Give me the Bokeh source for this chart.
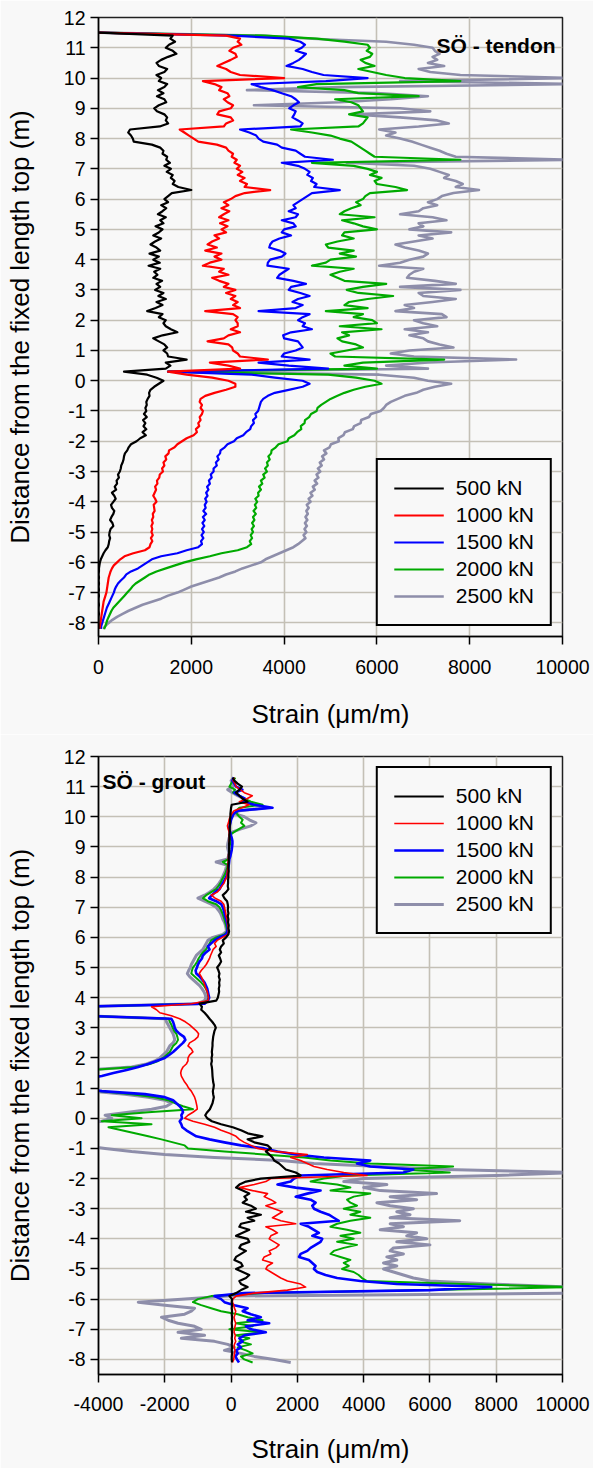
from bokeh.plotting import figure
from bokeh.layouts import column
from bokeh.models import (Range1d, FixedTicker, CustomJSTickFormatter, Legend,
                          LegendItem, Label)
from bokeh.embed import file_html
from bokeh.resources import INLINE

FONT = "Liberation Sans"
BG = "#f8f8f8"
GRID = "#c4c0b6"

LOAD_LABELS = ["500 kN", "1000 kN", "1500 kN", "2000 kN", "2500 kN"]
COLORS = ["#000000", "#ff0000", "#0000ff", "#00aa00", "#8e8eaa"]
X_TITLE = "Strain (\u03bcm/m)"
Y_TITLE = "Distance from the fixed length top (m)"

TOP_X_TICKS = [0, 2000, 4000, 6000, 8000, 10000]
BOT_X_TICKS = [-4000, -2000, 0, 2000, 4000, 6000, 8000, 10000]
Y_TICKS = [-8, -7, -6, -5, -4, -3, -2, -1, 0, 1, 2, 3, 4, 5, 6, 7, 8, 9, 10, 11, 12]

# distance from the fixed length top (m)
DIST_TOP = [
    11.5, 11.4, 11.3, 11.2, 11.1,
    11.0, 10.9, 10.8, 10.7, 10.6, 10.5, 10.4, 10.3, 10.2, 10.1,
    10.0, 9.9, 9.8, 9.7, 9.6, 9.5, 9.4, 9.3, 9.2, 9.1,
    9.0, 8.9, 8.8, 8.7, 8.6, 8.5, 8.4, 8.3, 8.2, 8.1,
    8.0, 7.9, 7.8, 7.7, 7.6, 7.5, 7.4, 7.3, 7.2, 7.1,
    7.0, 6.9, 6.8, 6.7, 6.6, 6.5, 6.4, 6.3, 6.2, 6.1,
    6.0, 5.9, 5.8, 5.7, 5.6, 5.5, 5.4, 5.3, 5.2, 5.1,
    5.0, 4.9, 4.8, 4.7, 4.6, 4.5, 4.4, 4.3, 4.2, 4.1,
    4.0, 3.9, 3.8, 3.7, 3.6, 3.5, 3.4, 3.3, 3.2, 3.1,
    3.0, 2.9, 2.8, 2.7, 2.6, 2.5, 2.4, 2.3, 2.2, 2.1,
    2.0, 1.9, 1.8, 1.7, 1.6, 1.5, 1.4, 1.3, 1.2, 1.1,
    1.0, 0.9, 0.8, 0.7, 0.6, 0.5, 0.4, 0.3, 0.2, 0.1,
    0.0, -0.1, -0.2, -0.3, -0.4, -0.5, -0.6, -0.7, -0.8, -0.9,
    -1.0, -1.1, -1.2, -1.3, -1.4, -1.5, -1.6, -1.7, -1.8, -1.9,
    -2.0, -2.1, -2.2, -2.3, -2.4, -2.5, -2.6, -2.7, -2.8, -2.9,
    -3.0, -3.1, -3.2, -3.3, -3.4, -3.5, -3.6, -3.7, -3.8, -3.9,
    -4.0, -4.1, -4.2, -4.3, -4.4, -4.5, -4.6, -4.7, -4.8, -4.9,
    -5.0, -5.1, -5.2, -5.3, -5.4, -5.5, -5.6, -5.7, -5.8, -5.9,
    -6.0, -6.1, -6.2, -6.3, -6.4, -6.5, -6.6, -6.7, -6.8, -6.9,
    -7.0, -7.1, -7.2, -7.3, -7.4, -7.5, -7.6, -7.7, -7.8, -7.9,
    -8.0, -8.1, -8.2,
]

DIST_BOT = [
    11.3, 11.2, 11.1,
    11.0, 10.9, 10.8, 10.7, 10.6, 10.5, 10.4, 10.3, 10.2, 10.1,
    10.0, 9.9, 9.8, 9.7, 9.6, 9.5, 9.4, 9.3, 9.2, 9.1,
    9.0, 8.9, 8.8, 8.7, 8.6, 8.5, 8.4, 8.3, 8.2, 8.1,
    8.0, 7.9, 7.8, 7.7, 7.6, 7.5, 7.4, 7.3, 7.2, 7.1,
    7.0, 6.9, 6.8, 6.7, 6.6, 6.5, 6.4, 6.3, 6.2, 6.1,
    6.0, 5.9, 5.8, 5.7, 5.6, 5.5, 5.4, 5.3, 5.2, 5.1,
    5.0, 4.9, 4.8, 4.7, 4.6, 4.5, 4.4, 4.3, 4.2, 4.1,
    4.0, 3.9, 3.8, 3.7, 3.6, 3.5, 3.4, 3.3, 3.2, 3.1,
    3.0, 2.9, 2.8, 2.7, 2.6, 2.5, 2.4, 2.3, 2.2, 2.1,
    2.0, 1.9, 1.8, 1.7, 1.6, 1.5, 1.4, 1.3, 1.2, 1.1,
    1.0, 0.9, 0.8, 0.7, 0.6, 0.5, 0.4, 0.3, 0.2, 0.1,
    0.0, -0.1, -0.2, -0.3, -0.4, -0.5, -0.6, -0.7, -0.8, -0.9,
    -1.0, -1.1, -1.2, -1.3, -1.4, -1.5, -1.6, -1.7, -1.8, -1.9,
    -2.0, -2.1, -2.2, -2.3, -2.4, -2.5, -2.6, -2.7, -2.8, -2.9,
    -3.0, -3.1, -3.2, -3.3, -3.4, -3.5, -3.6, -3.7, -3.8, -3.9,
    -4.0, -4.1, -4.2, -4.3, -4.4, -4.5, -4.6, -4.7, -4.8, -4.9,
    -5.0, -5.1, -5.2, -5.3, -5.4, -5.5, -5.6, -5.7, -5.8, -5.9,
    -6.0, -6.1, -6.2, -6.3, -6.4, -6.5, -6.6, -6.7, -6.8, -6.9,
    -7.0, -7.1, -7.2, -7.3, -7.4, -7.5, -7.6, -7.7, -7.8, -7.9,
    -8.0, -8.1,
]

# ---- SÖ - tendon : strain (um/m) at DIST_TOP ----
TOP_500 = [
    0, 1600, 1550, 1650, 1520,
    1450, 1600, 1680, 1500, 1350, 1250, 1300, 1480, 1420, 1250,
    1350, 1300, 1480, 1420, 1280, 1400, 1260, 1420, 1460, 1300,
    1200, 1260, 1420, 1480, 1450, 1500, 1320, 680, 640, 700,
    740, 760, 1150, 1330, 1400, 1380, 1480, 1460, 1540, 1420,
    1560, 1470, 1600, 1560, 1640, 1600, 1720, 2000, 1580, 1500,
    1420, 1500, 1350, 1460, 1380, 1280, 1450, 1330, 1400, 1230,
    1380, 1300, 1180, 1350, 1220, 1120, 1250, 1330, 1100, 1300,
    1180, 1320, 1080, 1330, 1200, 1270, 1180, 1370, 1250, 1330,
    1220, 1400, 1290, 1450, 1250, 1380, 1230, 1050, 1380, 1300,
    1450, 1400, 1450, 1560, 1700, 1380, 1180, 1300, 1420, 1480,
    1400, 1480, 1500, 1900, 1450, 1550, 1450, 550, 1050, 1250,
    1400, 1300, 1200, 1120, 1090, 1100, 1060, 1030, 1040, 1010,
    1030, 980, 1040, 960, 1010, 970, 1030, 950, 1020, 900,
    820, 700, 650, 620, 570, 550, 540, 520, 490, 480,
    460, 420, 440, 390, 400, 350, 380, 290, 340, 370,
    320, 270, 290, 340, 320, 280, 250, 300, 320, 260,
    240, 230, 250, 230, 220, 200, 150, 110, 80, 50,
    30, 20, 10, 10, 0, 10, 0, 10, 0, 10,
    0, 10, 0, 0, 10, 0, 0, 10, 0, 0,
    0, 0, 0,
]
TOP_1000 = [
    0, 2750, 3050, 3000, 3080,
    2900, 2820, 2950, 2980, 2850, 2700, 2560, 2750, 2850, 3050,
    4000, 2250, 2500, 2650, 2600, 2780, 2820, 2700, 2780, 2900,
    2850, 2600, 2560, 2850, 2900, 2750, 2700, 1750, 1850, 1950,
    2050, 2150, 2550, 2750, 2800, 2900, 2870, 2980, 2930, 3050,
    2980, 3100, 3000, 3150, 3050, 3200, 3150, 3700, 3150, 2950,
    2850, 2700, 2800, 2650, 2820, 2700, 2600, 2800, 2620, 2780,
    2650, 2750, 2500, 2600, 2450, 2350, 2550, 2300, 2650, 2500,
    2650, 2400, 2250, 2700, 2600, 2800, 2450, 2600, 2800, 2700,
    2950, 2750, 2950, 2850, 3000, 2900, 3050, 2300, 2900, 3000,
    2950, 3000, 3000, 2850, 3050, 2800, 2700, 2350, 2800, 2880,
    2900, 3000, 3050, 3650, 2400, 2800, 3050, 1500, 1900, 2450,
    2800, 2950, 2950, 2750, 2500, 2300, 2200, 2180, 2230, 2200,
    2250, 2230, 2180, 2200, 2150, 2170, 2100, 2120, 2050, 1900,
    1800, 1700, 1640, 1520, 1510, 1440, 1460, 1400, 1420, 1370,
    1390, 1320, 1310, 1260, 1270, 1220, 1240, 1210, 1180, 1220,
    1250, 1190, 1200, 1210, 1170, 1180, 1150, 1170, 1140, 1160,
    1140, 1170, 1130, 1160, 1120, 1100, 1000, 750, 560, 470,
    400, 330, 290, 260, 240, 220, 210, 200, 190, 180,
    170, 150, 130, 110, 100, 90, 80, 70, 60, 50,
    40, 30, 20,
]
TOP_1500 = [
    0, 2900, 4100, 4350, 4450,
    4380, 4250, 4470, 4400, 4320, 4200, 4050, 4400, 4600, 4850,
    5800, 4900, 3300, 3500, 3750, 3950, 4150, 4250, 4320, 4200,
    4110, 4250, 4220, 4180, 4300, 4400, 4350, 3050, 3250, 3400,
    3450, 3550, 3850, 3950, 4250, 4350, 4450, 5050, 3950, 4300,
    4450, 4550, 4500, 4620, 4580, 4700, 4650, 5200, 4600, 4500,
    4400, 4300, 4200, 4250, 4100, 4300, 4250, 3950, 4200, 4250,
    4000, 3950, 4150, 3900, 3750, 3700, 3680, 3900, 4030, 3950,
    3700, 3650, 3640, 4100, 4000, 3900, 3850, 4200, 4470, 4150,
    4100, 4350, 4550, 4300, 4180, 4400, 4250, 3450, 4550, 4400,
    4300, 4450, 4400, 4600, 4150, 3980, 4000, 4300, 4350, 4400,
    4250, 4000, 3950, 4550, 3450, 4100, 4950, 1500, 3300, 3800,
    4400, 4550, 4400, 4100, 3800, 3650, 3550, 3500, 3480, 3460,
    3440, 3380, 3400, 3330, 3350, 3290, 3270, 3180, 3120, 2980,
    2920, 2780, 2720, 2630, 2620, 2560, 2590, 2530, 2550, 2480,
    2480, 2420, 2440, 2380, 2400, 2340, 2370, 2320, 2350, 2300,
    2330, 2290, 2310, 2260, 2320, 2250, 2290, 2240, 2280, 2230,
    2270, 2220, 2260, 2210, 2230, 2150, 1900, 1700, 1350, 1150,
    1050, 950, 850, 700, 600, 550, 480, 420, 380, 350,
    330, 300, 270, 240, 210, 180, 160, 140, 120, 100,
    80, 60, 50,
]
TOP_2000 = [
    0, 3600, 4700, 5300, 5800,
    5850, 5780, 5900, 5850, 5650, 5750, 5950, 5600, 5900, 6200,
    6600, 7800, 4700, 4300, 5300, 5600, 6900, 5100, 5450, 5600,
    5650, 5700, 5400, 5800, 5750, 5700, 5600, 4150, 4600, 5000,
    5200, 5450, 5550, 5650, 5750, 5850, 5950, 7800, 4600, 5500,
    5800, 6000, 5850, 6100, 5950, 6000, 6400, 6650, 5850, 5750,
    5700, 5550, 5650, 5450, 5300, 5200, 5950, 5250, 5500, 5700,
    6000, 5300, 5250, 5500, 5150, 4900, 4950, 5500, 5200, 5550,
    5000, 4900, 4600, 5500, 5200, 5000, 5150, 5300, 6200, 5700,
    5350, 5600, 6350, 5800, 5400, 5300, 5800, 4900, 5700, 5500,
    5900, 6000, 5200, 6100, 5250, 5400, 5150, 5250, 5550, 5700,
    5350, 5000, 5100, 7450, 5700, 5300, 6000, 1500, 4950, 5550,
    5950, 6100, 5750, 5500, 5300, 5150, 5000, 4900, 4800, 4720,
    4700, 4580, 4540, 4450, 4440, 4360, 4370, 4280, 4220, 4100,
    4070, 3880, 3820, 3730, 3720, 3660, 3690, 3630, 3650, 3590,
    3630, 3550, 3580, 3500, 3530, 3460, 3500, 3440, 3450, 3380,
    3420, 3370, 3400, 3340, 3390, 3330, 3360, 3310, 3350, 3300,
    3330, 3280, 3310, 3260, 3290, 3200, 3000, 2650, 2400, 2100,
    1850, 1650, 1450, 1250, 1100, 1000, 900, 800, 730, 680,
    620, 560, 500, 440, 380, 320, 280, 250, 220, 190,
    170, 150, 120,
]
TOP_2500 = [
    0, 3500, 4600, 6200, 6800,
    7200, 7250, 7350, 7200, 7300, 7100, 7450, 6900, 7150, 7800,
    10300, 6500, 10300, 5200, 3200, 6000, 7100, 6300, 5200, 3350,
    6500, 7150, 5500, 6500, 7300, 7550, 6900, 6050, 6400, 6200,
    6500, 6750, 6950, 7150, 7350, 7500, 7700, 10300, 5350, 6800,
    7150, 7350, 7550, 7450, 7700, 7850, 7700, 8200, 7650, 7400,
    7300, 7100, 7300, 7000, 6900, 6500, 7200, 7500, 6900, 7000,
    6700, 7600, 6900, 7200, 6800, 6400, 6600, 6900, 7100, 7000,
    6700, 6500, 6050, 7000, 6800, 6700, 6650, 7250, 7700, 6500,
    7800, 6900, 7000, 7700, 7200, 6600, 6800, 6400, 7400, 7500,
    6800, 7000, 7300, 6600, 7100, 6700, 7000, 7100, 7350, 7650,
    6700, 6300, 6800, 9000, 7100, 6200, 7100, 1500, 6050, 6800,
    7100, 7600, 7250, 7000, 6850, 6600, 6450, 6300, 6200, 6150,
    6080, 5870, 5830, 5660, 5650, 5510, 5480, 5310, 5280, 5170,
    5180, 5010, 4980, 4860, 4910, 4820, 4860, 4770, 4810, 4730,
    4780, 4700, 4740, 4660, 4710, 4620, 4660, 4570, 4610, 4530,
    4570, 4490, 4530, 4480, 4510, 4460, 4500, 4450, 4490, 4440,
    4480, 4420, 4460, 4380, 4300, 4200, 4050, 3900, 3750, 3600,
    3500, 3300, 3100, 2950, 2750, 2600, 2400, 2200, 2000, 1850,
    1700, 1500, 1350, 1150, 950, 800, 650, 520, 400, 300,
    220, 150, 100,
]

# ---- SÖ - grout : strain (um/m) at DIST_BOT ----
BOT_500 = [
    50, 100, 200,
    330, 250, 150, 250, 350, 500, 20, 0, -10, -20,
    -20, -30, -30, -40, -40, -40, -50, -50, -50, -60,
    -60, -60, -60, -70, -70, -70, -80, -80, -70, -80,
    -80, -90, -90, -100, -80, -150, -250, -200, -120, -100,
    -90, -100, -80, -100, -80, -90, -70, -80, -60, -80,
    -150, -250, -220, -300, -340, -300, -370, -330, -300, -350,
    -420, -380, -350, -370, -340, -360, -350, -370, -360, -380,
    -400, -450, -950, -880, -900, -800, -720, -650, -570, -500,
    -460, -500, -520, -540, -550, -560, -560, -570, -580, -570,
    -590, -580, -600, -580, -570, -565, -560, -550, -540, -520,
    -530, -550, -540, -520, -540, -560, -600, -640, -720, -780,
    -720, -580, -300, 50, 300, 500, 950, 500, 700, 1100,
    1200, 1050, 1150, 1250, 1300, 1450, 1550, 1650, 1950, 2100,
    900, 450, 250, 150, 350, 550, 400, 480, 350, 600,
    750, 450, 900, 500, 700, 300, 250, 550, 350, 150,
    500, 550, 300, 250, 450, 300, 150, 100, 300, 350,
    150, 350, 550, 450, 250, 300, 500, 300, 150, -50,
    30, 20, 30, 20, 30, 20, 30, 30, 20, 30,
    20, 30, 30, 20, 30, 20, 30, 20, 30, 20,
    20, 30,
]
BOT_1000 = [
    100, 60, 120,
    150, 280, 400, 640, 480, 250, 540, 330, 90, 20,
    -30, -60, -80, -110, -90, -60, -60, -50, -60, -60,
    -60, -60, -70, -80, -80, -90, -100, -100, -110, -120,
    -130, -180, -210, -280, -340, -420, -600, -480, -300, -220,
    -200, -180, -160, -150, -120, -110, -100, -90, -80, -90,
    -260, -420, -500, -450, -540, -580, -620, -650, -700, -750,
    -820, -900, -960, -900, -860, -820, -790, -760, -720, -700,
    -680, -700, -1200, -2400, -2250, -2150, -1800, -1550, -1380, -1250,
    -1150, -1050, -980, -1000, -1100, -1250, -1300, -1200, -1150, -1250,
    -1300, -1300, -1350, -1450, -1500, -1520, -1500, -1450, -1400, -1330,
    -1280, -1200, -1150, -1100, -1070, -1050, -1030, -1020, -1150, -1300,
    -1400, -1150, -800, -500, -300, -50, 150, 250, 400, 600,
    800, 1300, 2300, 1800, 2100, 2300, 2500, 2900, 3400, 4100,
    1200, 1050, 700, 250, 650, 1100, 1000, 1200, 1350, 1050,
    1300, 1550, 1400, 1250, 1500, 1950, 1050, 1250, 1400, 1200,
    1150, 1300, 1450, 1350, 1150, 1200, 1000, 950, 1250, 1100,
    1050, 1200, 1350, 1500, 1700, 2100, 2250, 1700, 700, 150,
    50, 40, 80, 100, 140, 120, 90, 110, 140, 120,
    100, 90, 130, 110, 140, 100, 90, 120, 100, 90,
    80, 40,
]
BOT_1500 = [
    80, 40, 100,
    150, 340, 100, 240, 420, 360, 700, 1250, 200, 80,
    40, 0, -20, -40, -60, -30, -10, 20, 40, 40,
    30, 20, 0, -20, -50, -60, -70, -80, -100, -120,
    -150, -200, -250, -300, -350, -480, -580, -660, -450, -300,
    -250, -220, -200, -180, -150, -130, -110, -100, -110, -150,
    -350, -500, -600, -700, -650, -760, -850, -880, -950, -1000,
    -1030, -1070, -1050, -950, -870, -800, -760, -720, -700, -680,
    -660, -700, -800, -4500, -4500, -4500, -4500, -1800, -1750, -1720,
    -1700, -1650, -1550, -1420, -1380, -1450, -1550, -1650, -1750, -1870,
    -2000, -2250, -2500, -2800, -3150, -3550, -3900, -4500, -4500, -4500,
    -4500, -3900, -2600, -2000, -1750, -1650, -1550, -1480, -1450, -1500,
    -1480, -1550, -1500, -1470, -1350, -1200, -1050, -650, -200, 300,
    1000, 1400, 1950, 2800, 4200, 3800, 4200, 5500, 5200, 2100,
    1900, 1800, 1400, 1950, 2700, 2300, 1950, 2400, 2550, 2450,
    2500, 2700, 2950, 3100, 3250, 2100, 2350, 2500, 2650, 2450,
    2750, 2700, 2550, 2400, 2300, 2100, 2050, 2350, 2450, 2550,
    2500, 2600, 2850, 3200, 3900, 5000, 7850, 6000, 400, -500,
    -300, -200, 100, 500, 350, 600, 900, 500, 1150, 450,
    600, 1050, 400, 250, 350, 200, 300, 150, 200, 130,
    180, 240,
]
BOT_2000 = [
    130, 60, 0,
    -50, 120, 60, 250, 400, 600, 950, 250, 150, 180,
    250, 350, 300, 400, 250, 100, -40, -20, -40, -30,
    -50, -40, -20, -40, -60, -250, -100, -120, -150, -180,
    -230, -280, -320, -380, -450, -600, -750, -850, -700, -450,
    -350, -300, -260, -230, -200, -180, -150, -130, -120, -200,
    -450, -600, -650, -700, -760, -850, -920, -980, -1020, -1080,
    -1150, -1180, -1200, -1100, -1000, -900, -820, -760, -720, -700,
    -680, -720, -900, -4500, -4500, -4500, -4500, -1880, -1850, -1800,
    -1760, -1720, -1650, -1620, -1600, -1650, -1750, -1800, -1850, -1950,
    -2050, -2200, -2450, -2900, -4300, -4500, -4500, -4500, -4500, -4500,
    -4500, -4000, -3000, -2300, -1900, -1700, -1450, -1150, -2500, -3600,
    -2700, -3900, -2400, -3700, -3300, -2900, -2500, -2100, -1750, -1400,
    -1300, -200, 1000, 2200, 3000, 4200, 6700, 5200, 6600, 3500,
    2800, 2400, 3200, 3600, 3000, 4200, 3700, 3500, 3600, 3800,
    3400, 3900, 3600, 4200, 3600, 3200, 3000, 3500, 3900, 3300,
    3700, 3200, 3800, 3400, 3100, 3000, 3300, 3600, 3400, 3550,
    3350, 3700, 3850, 3950, 4100, 7000, 10300, 6000, 1000, -600,
    -1000, -1150, -900, -600, -300, 200, 500, 950, 150, 650,
    -50, 950, 150, 550, 250, 600, 200, 450, 650, 300,
    400, 650,
]
BOT_2500 = [
    80, 0, 40,
    60, -100, 40, 200, 380, 340, 750, 1050, 250, 100,
    400, 550, 750, 600, 300, 50, -20, -60, -80, -100,
    -110, -90, -70, -80, -100, -450, -130, -150, -180, -220,
    -260, -300, -360, -430, -520, -650, -800, -1000, -800, -600,
    -450, -380, -320, -280, -250, -200, -170, -150, -140, -250,
    -550, -700, -750, -800, -850, -950, -1050, -1100, -1150, -1200,
    -1230, -1280, -1320, -1250, -1150, -1050, -950, -880, -820, -780,
    -760, -800, -1000, -4500, -4500, -4500, -4500, -1980, -1950, -1900,
    -1850, -1800, -1750, -1720, -1700, -1750, -1850, -1900, -1950, -2050,
    -2150, -2300, -2550, -3000, -4300, -4500, -4500, -4500, -4500, -4500,
    -4500, -4200, -3200, -2500, -2000, -1800, -1950, -2400, -3100, -3800,
    -3600, -3900, -4500, -4500, -4500, -4500, -4500, -4500, -4500, -4500,
    -3800, -3000, -2000, -500, 1500, 2500, 4500, 6500, 10300, 8000,
    4000, 3400, 4700, 4000, 4500, 6200, 4800, 5600, 4400, 4800,
    5500, 5000, 5400, 4800, 6900, 4800, 5200, 4500, 5600, 5300,
    5900, 5000, 6000, 4900, 4800, 5200, 4700, 5000, 4600, 5000,
    4600, 4900, 5200, 5500, 6000, 7800, 10300, 10300, 10300, -100,
    -1500, -2800, -2000, -1100, -1200, -1400, -2100, -1900, -1600, -1100,
    -900, -1600, -800, -1500, -500, -100, 100, -200, 300, 700,
    1300, 1800,
]

TOP_SERIES = [TOP_500, TOP_1000, TOP_1500, TOP_2000, TOP_2500]
BOT_SERIES = [BOT_500, BOT_1000, BOT_1500, BOT_2000, BOT_2500]
for s in TOP_SERIES:
    assert len(s) == len(DIST_TOP), (len(s), len(DIST_TOP))
for s in BOT_SERIES:
    assert len(s) == len(DIST_BOT), (len(s), len(DIST_BOT))

WIDTH_TOP = [2.2, 2.2, 2.2, 2.2, 2.6]
WIDTH_BOT = [2.2, 1.6, 2.6, 2.0, 3.0]


def build(dist, series, widths, xr, yr, x_ticks, height, b_top, b_bot,
          legend_loc, tag, tag_x, tag_y, tag_align, x_std, x_lab_std):
    p = figure(width=593, height=height,
               x_range=Range1d(*xr), y_range=Range1d(*yr),
               output_backend="svg", toolbar_location=None,
               min_border_left=98, min_border_right=31,
               min_border_top=b_top, min_border_bottom=b_bot,
               background_fill_color=BG, border_fill_color=BG)
    p.outline_line_color = "#202020"
    p.outline_line_width = 1.5

    rends = {}
    for i in reversed(range(len(series))):
        rends[i] = p.line(series[i], dist, line_color=COLORS[i],
                          line_width=widths[i], line_join="round")

    p.xaxis.ticker = FixedTicker(ticks=x_ticks)
    p.yaxis.ticker = FixedTicker(ticks=Y_TICKS)
    p.xgrid.ticker = FixedTicker(ticks=x_ticks)
    p.ygrid.ticker = FixedTicker(ticks=Y_TICKS)
    p.xaxis.formatter = CustomJSTickFormatter(code="return tick.toFixed(0);")
    p.yaxis.formatter = CustomJSTickFormatter(code="return tick.toFixed(0);")
    for ax in (p.xaxis[0], p.yaxis[0]):
        ax.axis_line_color = "black"
        ax.axis_line_width = 1.5
        ax.major_tick_line_color = "black"
        ax.major_tick_line_width = 1.5
        ax.major_tick_in = 0
        ax.major_tick_out = 8
        ax.minor_tick_line_color = None
        ax.major_label_text_font = FONT
        ax.major_label_text_font_size = "19.5px"
        ax.major_label_text_color = "black"
        ax.axis_label_text_font = FONT
        ax.axis_label_text_font_size = "26px"
        ax.axis_label_text_font_style = "normal"
        ax.axis_label_text_color = "black"
    p.yaxis.axis_label = Y_TITLE
    p.xaxis.axis_label = X_TITLE
    p.xaxis.major_label_standoff = x_std
    p.xaxis.axis_label_standoff = x_lab_std
    p.yaxis.major_label_standoff = 5
    p.yaxis.axis_label_standoff = 26
    p.grid.grid_line_color = GRID
    p.grid.grid_line_width = 1.6

    legend = Legend(
        items=[LegendItem(label=LOAD_LABELS[i], renderers=[rends[i]])
               for i in range(len(series))],
        location=legend_loc, margin=10, padding=16, spacing=3,
        glyph_width=50, glyph_height=20, label_standoff=12,
        label_text_font=FONT, label_text_font_size="21px",
        label_text_color="black",
        border_line_color="black", border_line_width=2, border_line_alpha=1.0,
        background_fill_color=BG, background_fill_alpha=1.0)
    p.add_layout(legend)

    p.add_layout(Label(x=tag_x, y=tag_y, text=tag, text_font=FONT,
                       text_font_size="21px", text_font_style="bold",
                       text_align=tag_align, text_baseline="alphabetic",
                       text_color="black"))
    return p


p1 = build(DIST_TOP, TOP_SERIES, WIDTH_TOP, (0, 10000), (-8.45, 12),
           TOP_X_TICKS, 734, 17, 98, "bottom_right",
           "S\u00d6 - tendon", 9850, 11.08, "right", 15, 22)
p2 = build(DIST_BOT, BOT_SERIES, WIDTH_BOT, (-4000, 10000), (-8.5, 12),
           BOT_X_TICKS, 734, 22, 94, "top_right",
           "S\u00d6 - grout", -3880, 11.17, "left", 14, 20)

layout = column(p1, p2)
open("out.html", "w").write(file_html(layout, INLINE))
